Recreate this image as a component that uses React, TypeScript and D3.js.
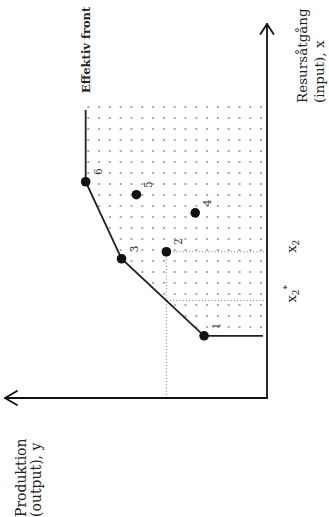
import React from 'react'
import * as d3 from 'd3'

// DEA-style chart: input (x) horizontal, output (y) vertical, drawn rotated -90deg
const dmuIds = [1, 2, 3, 4, 5, 6]
const inputX = [1.68, 3.95, 3.76, 5.0, 5.49, 5.84]
const outputY = [1.7, 2.72, 3.93, 1.94, 3.53, 4.9]
const frontIds = [1, 3, 6]
const frontStartY = 0.11
const frontEndX = 7.78
const shadeEndX = 8.05
const xMax = 10.1
const yMax = 7.08
const refId = 2

const W = 329
const H = 517
const originLeft = 267
const originTop = 398

export default function App() {
    const x = d3.scaleLinear().domain([0, xMax]).range([0, 374])
    const y = d3.scaleLinear().domain([0, yMax]).range([0, -262])

    const pts = dmuIds.map((id, i) => ({ id, x: inputX[i], y: outputY[i] }))
    const front = frontIds.map(id => pts.find(p => p.id === id)!)
    const first = front[0]
    const last = front[front.length - 1]

    const frontPts: [number, number][] = [
        [first.x, frontStartY],
        ...front.map(p => [p.x, p.y] as [number, number]),
        [frontEndX, last.y]
    ]
    const line = d3.line<[number, number]>().x(d => x(d[0])).y(d => y(d[1]))

    const shadePts: [number, number][] = [
        [first.x, 0],
        ...front.map(p => [p.x, p.y] as [number, number]),
        [shadeEndX, last.y],
        [shadeEndX, 0]
    ]

    // projection of unit 2 onto the frontier at the same output level
    const ref = pts.find(p => p.id === refId)!
    let refStarX = first.x
    for (let i = 0; i < front.length - 1; i++) {
        const a = front[i], b = front[i + 1]
        if (ref.y >= a.y && ref.y <= b.y) {
            refStarX = a.x + (ref.y - a.y) / (b.y - a.y) * (b.x - a.x)
        }
    }

    const xEnd = x(xMax)
    const yEnd = y(yMax)
    const serif = "'DejaVu Serif', serif"

    return (
        <svg width={W} height={H} style={{ position: 'absolute', left: 0, top: 0, background: '#fff' }}>
            <defs>
                <pattern id="dots" width={11} height={10.8} patternUnits="userSpaceOnUse">
                    <circle cx={5} cy={5} r={1} fill="#8c8c8c" />
                </pattern>
            </defs>
            <g transform={`translate(${originLeft},${originTop}) rotate(-90)`}>
                <path d={line(shadePts) + 'Z'} fill="url(#dots)" stroke="none" />

                {/* dotted reference lines */}
                <g stroke="#777" strokeWidth={1} strokeDasharray="1,2.2" fill="none">
                    <line x1={0} y1={y(ref.y)} x2={x(ref.x)} y2={y(ref.y)} />
                    <line x1={x(ref.x)} y1={0} x2={x(ref.x)} y2={y(ref.y)} />
                    <line x1={x(refStarX)} y1={0} x2={x(refStarX)} y2={y(ref.y)} />
                </g>

                {/* axes */}
                <g stroke="#111" strokeWidth={1.8} fill="none" strokeLinecap="round">
                    <line x1={0} y1={0} x2={xEnd} y2={0} />
                    <line x1={0} y1={0} x2={0} y2={yEnd} />
                    <path d={`M${xEnd - 10},${-6.5}L${xEnd},0L${xEnd - 10},${6.5}`} strokeLinejoin="round" />
                    <path d={`M${-7},${yEnd + 12}L0,${yEnd}L${7},${yEnd + 12}`} strokeLinejoin="round" />
                </g>

                {/* efficient front */}
                <path d={line(frontPts)!} fill="none" stroke="#222" strokeWidth={1.8} />

                {pts.map(p => (
                    <g key={p.id}>
                        <circle cx={x(p.x)} cy={y(p.y)} r={4.8} fill="#111" />
                        <text x={x(p.x) + 10} y={y(p.y) + 12} fontFamily={serif} fontSize={10.5}
                            textAnchor="middle" dominantBaseline="central" fill="#333">{p.id}</text>
                    </g>
                ))}

                <text x={x(frontEndX) + 17} y={y(last.y)} fontFamily={serif} fontSize={11.5} fontWeight="bold"
                    dominantBaseline="central" fill="#222">Effektiv front</text>

                <text fontFamily={serif} fontSize={13.5} fill="#222">
                    <tspan x={x(xMax) - 79} y={40}>Resursåtgång</tspan>
                    <tspan x={x(xMax) - 79} y={57}>(input), x</tspan>
                </text>

                <text fontFamily={serif} fontSize={14} fill="#222">
                    <tspan x={-119} y={y(yMax) + 21}>Produktion</tspan>
                    <tspan x={-119} y={y(yMax) + 36}>(output), y</tspan>
                </text>

                <text x={x(ref.x) - 1} y={29} fontFamily={serif} fontSize={13} fill="#222">
                    x<tspan fontSize={9} dy={3}>2</tspan>
                </text>
                <text x={x(refStarX) - 2} y={29} fontFamily={serif} fontSize={13} fill="#222">
                    x<tspan fontSize={9} dy={3}>2</tspan><tspan fontSize={9} dy={-9}>*</tspan>
                </text>
            </g>
        </svg>
    )
}
